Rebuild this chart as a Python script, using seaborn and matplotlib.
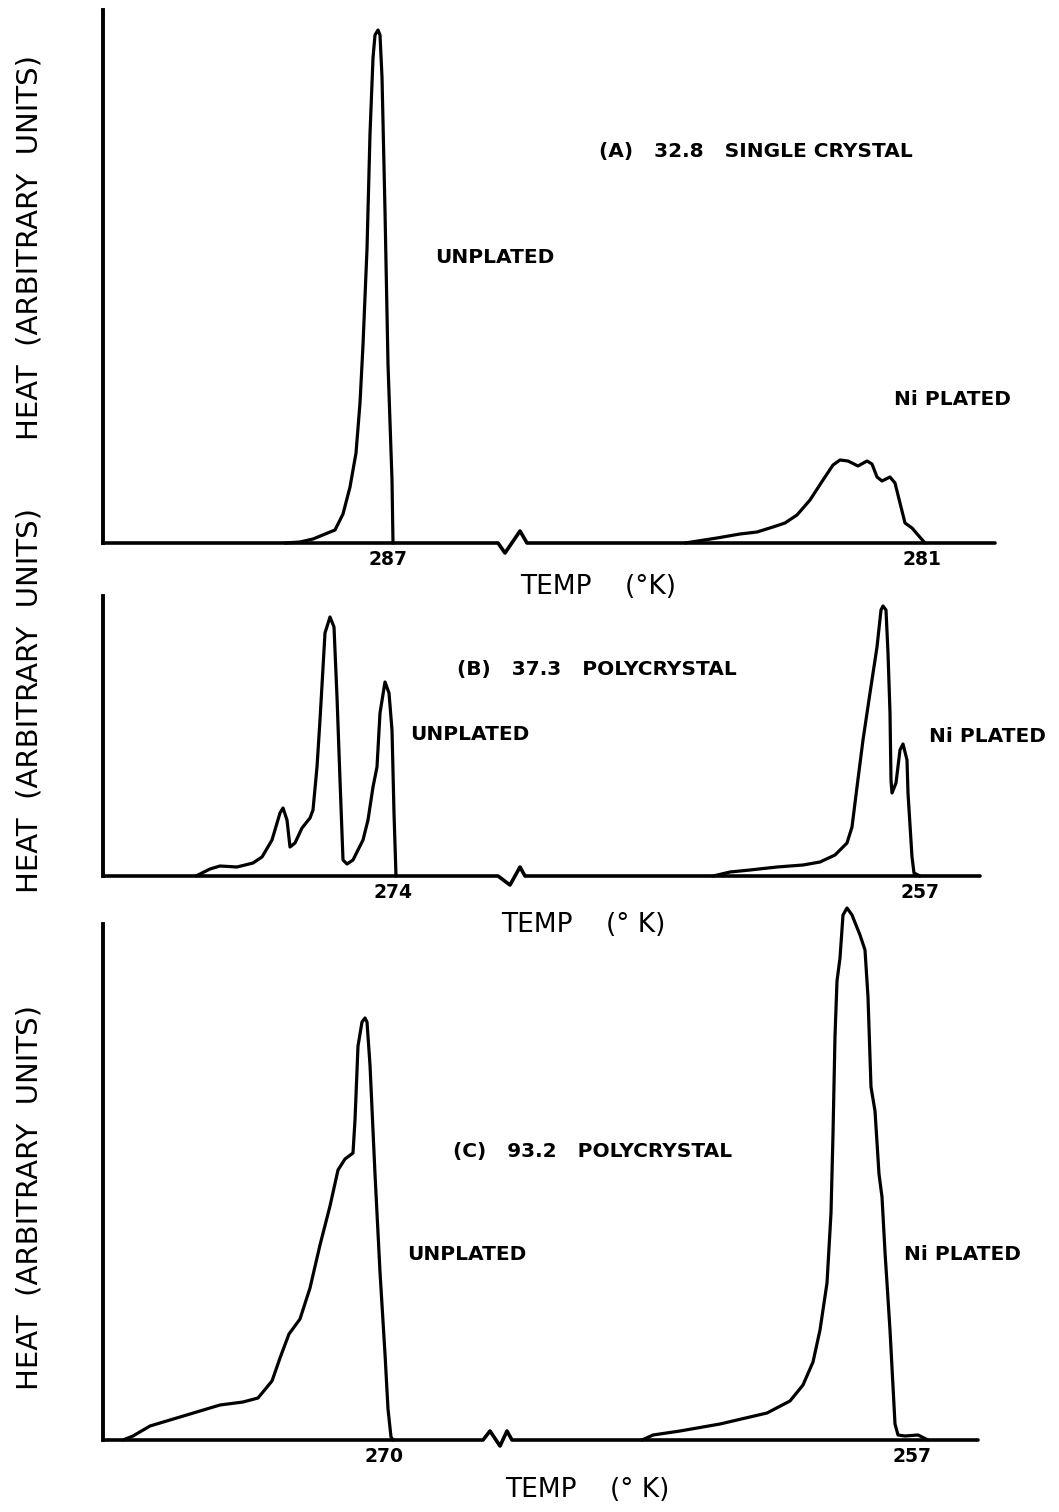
import numpy as np
import pandas as pd
import matplotlib
matplotlib.use("Agg")
import matplotlib.pyplot as plt
import seaborn as sns

sns.set_theme(style="white")
plt.rcParams["font.family"] = ["DejaVu Sans"]
plt.rcParams["text.color"] = "black"
plt.rcParams["xtick.color"] = "black"
plt.rcParams["xtick.labelcolor"] = "black"

W, H = 1059, 1512

# ---------------- data (chart position along the temperature trace, heat in arbitrary units) ----
# Panel A : 32.8 single crystal
a_unpl_pos = [285, 300, 313, 335, 343, 350, 356, 360, 363, 367, 370, 373, 375, 378, 380, 382, 385, 388, 392, 393]
a_unpl_heat = [0, 1, 4, 13, 29, 56, 90, 140, 198, 294, 409, 485, 508, 513, 508, 466, 332, 179, 63, 0]
a_ni_pos = [685, 717, 740, 757, 773, 785, 797, 810, 823, 833, 840, 848, 858, 867, 872, 877, 882, 890, 895, 900, 905, 912, 918, 925]
a_ni_heat = [0, 5, 9, 11, 16, 20, 28, 43, 63, 78, 83, 82, 77, 82, 79, 66, 62, 66, 60, 40, 20, 15, 8, 0]

# Panel B : 37.3 polycrystal
b_unpl_pos = [196, 210, 220, 237, 253, 262, 272, 280, 283, 287, 290, 295, 302, 310, 313, 317, 320, 325, 330, 334,
              337, 340, 343, 347, 353, 363, 368, 373, 377, 380, 385, 389, 392, 394, 396]
b_unpl_heat = [0, 7, 10, 9, 13, 19, 36, 63, 68, 56, 29, 33, 48, 58, 66, 109, 156, 243, 259, 249,
               179, 96, 16, 12, 16, 36, 56, 89, 109, 163, 194, 183, 146, 63, 0]
b_ni_pos = [713, 730, 750, 777, 803, 820, 835, 847, 852, 857, 863, 870, 877, 881, 883, 886, 888, 890, 891, 892,
            896, 900, 903, 907, 908, 912, 914, 920]
b_ni_heat = [0, 4, 6, 9, 11, 14, 21, 33, 49, 89, 136, 183, 229, 266, 270, 266, 223, 163, 96, 83,
             93, 126, 132, 116, 83, 19, 3, 0]

# Panel C : 93.2 polycrystal
c_unpl_pos = [123, 133, 150, 180, 220, 243, 258, 272, 280, 289, 300, 310, 320, 330, 338, 345, 353, 355, 358, 362,
              365, 367, 370, 375, 380, 385, 388, 391, 393]
c_unpl_heat = [0, 4, 14, 23, 35, 38, 42, 59, 82, 106, 121, 152, 195, 234, 270, 281, 287, 320, 394, 418,
               422, 418, 375, 266, 168, 86, 31, 3, 0]
c_ni_pos = [642, 653, 680, 720, 767, 790, 803, 813, 820, 827, 831, 833, 835, 837, 840, 843, 847, 852, 860, 865,
            868, 871, 875, 879, 882, 885, 890, 895, 898, 905, 918, 928]
c_ni_heat = [0, 5, 9, 16, 27, 39, 55, 78, 110, 157, 227, 306, 404, 459, 482, 525, 532, 525, 505, 490,
             443, 353, 329, 266, 243, 188, 110, 16, 5, 4, 5, 0]

tick_labels_a = ["287", "281"]
tick_labels_b = ["274", "257"]
tick_labels_c = ["270", "257"]
titles = ["(A)   32.8   SINGLE CRYSTAL", "(B)   37.3   POLYCRYSTAL", "(C)   93.2   POLYCRYSTAL"]
xlabel_text = ["TEMP    (°K)", "TEMP    (° K)", "TEMP    (° K)"]
ylabel_text = "HEAT  (ARBITRARY  UNITS)"

# ---------------- layout (pixels) ----------------
panels = [
    dict(base=543, top=533, axis_x=103, end=995,
         zig_x=[498, 505, 520, 527], zig_y=[0, -10, 12, 0],
         unpl=(a_unpl_pos, a_unpl_heat), ni=(a_ni_pos, a_ni_heat),
         ticks=[388, 922], tlabels=tick_labels_a,
         title=(756, 152), unpl_lab=(495, 258), ni_lab=(952, 400),
         xlab=(598, 587), ylab_y=248),
    dict(base=876, top=280, axis_x=103, end=980,
         zig_x=[498, 510, 520, 525], zig_y=[0, -9, 9, 0],
         unpl=(b_unpl_pos, b_unpl_heat), ni=(b_ni_pos, b_ni_heat),
         ticks=[393, 920], tlabels=tick_labels_b,
         title=(597, 670), unpl_lab=(470, 735), ni_lab=(987, 737),
         xlab=(583, 925), ylab_y=700),
    dict(base=1440, top=516, axis_x=103, end=978,
         zig_x=[483, 490, 500, 507, 512], zig_y=[0, 9, -6, 9, 0],
         unpl=(c_unpl_pos, c_unpl_heat), ni=(c_ni_pos, c_ni_heat),
         ticks=[384, 912], tlabels=tick_labels_c,
         title=(593, 1152), unpl_lab=(467, 1255), ni_lab=(962, 1255),
         xlab=(587, 1490), ylab_y=1198),
]

fig = plt.figure(figsize=(W / 100, H / 100), dpi=100)
fig.patch.set_facecolor("white")

LW = 2.3
ANN = 14.5
for i, p in enumerate(panels):
    base, top = p["base"], p["top"]
    ax = fig.add_axes([0, (H - base) / H, 1, top / H])
    ax.set_facecolor("none")
    ax.set_xlim(0, W)
    ax.set_ylim(0, top)

    df = pd.concat([
        pd.DataFrame({"pos": p["unpl"][0], "heat": p["unpl"][1], "sample": "UNPLATED"}),
        pd.DataFrame({"pos": p["ni"][0], "heat": p["ni"][1], "sample": "Ni PLATED"}),
    ])
    sns.lineplot(data=df, x="pos", y="heat", units="sample", estimator=None, sort=False,
                 color="black", lw=LW, ax=ax, legend=False)

    # baseline with break mark
    bx = [p["axis_x"]] + p["zig_x"] + [p["end"]]
    by = [0] + p["zig_y"] + [0]
    ax.plot(bx, by, color="black", lw=LW + 0.3, solid_joinstyle="miter")
    for ln in ax.lines:
        ln.set_clip_on(False)
        ln.set_solid_joinstyle("round")
        ln.set_solid_capstyle("round")

    for s in ["top", "right", "bottom"]:
        ax.spines[s].set_visible(False)
    ax.spines["left"].set_position(("data", p["axis_x"]))
    ax.spines["left"].set_bounds(0, top)
    ax.spines["left"].set_linewidth(2.8)
    ax.spines["left"].set_color("black")
    ax.set_yticks([])
    ax.set_xticks(p["ticks"])
    ax.set_xticklabels(p["tlabels"], fontsize=13.5, fontweight="bold", color="black")
    ax.tick_params(axis="x", length=0, pad=5, colors="black")
    ax.set_xlabel("")
    ax.set_ylabel("")

    # annotations
    tx, ty = p["title"]
    ax.text(tx, base - ty, titles[i], ha="center", va="center", fontsize=ANN, fontweight="bold", color="black")
    ux, uy = p["unpl_lab"]
    ax.text(ux, base - uy, "UNPLATED", ha="center", va="center", fontsize=ANN, fontweight="bold", color="black")
    nx, ny = p["ni_lab"]
    ax.text(nx, base - ny, "Ni PLATED", ha="center", va="center", fontsize=ANN, fontweight="bold", color="black")
    lx, ly = p["xlab"]
    ax.text(lx, base - ly, xlabel_text[i], ha="center", va="center", fontsize=19, clip_on=False, color="black")

    fig.text(30 / W, 1 - p["ylab_y"] / H, ylabel_text, rotation=90, ha="center", va="center",
             fontsize=21, color="black")

fig.savefig("out.png", dpi=100, facecolor="white")
